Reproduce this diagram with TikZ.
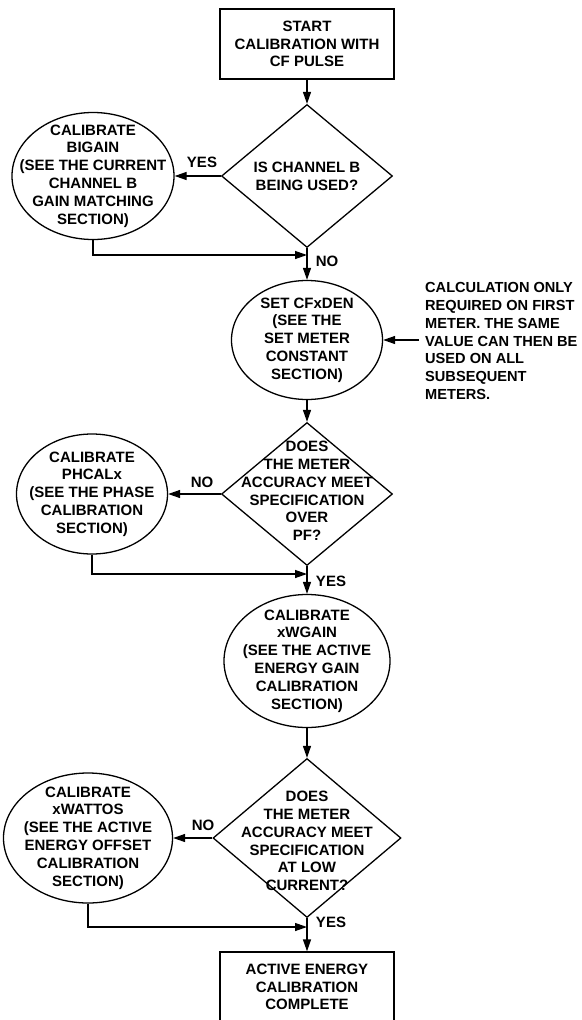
\documentclass[tikz,border=0pt]{standalone}
\usepackage{fontspec}
\setmainfont{Liberation Sans}
\usetikzlibrary{shapes.geometric,arrows.meta}
\tikzset{
  txt/.style={font=\fontsize{15}{17.8}\selectfont\bfseries, align=center, inner sep=0pt},
  notetxt/.style={font=\fontsize{14.6}{17.8}\selectfont\bfseries, align=left, inner sep=0pt},
  lbl/.style={font=\fontsize{15}{17.8}\selectfont\bfseries, inner sep=0pt},
  ell/.style={draw, ellipse, line width=1.3pt, inner sep=0pt},
  dia/.style={draw, diamond, line width=1.3pt, inner sep=0pt},
  boxnode/.style={draw, rectangle, line width=1.3pt, inner sep=0pt},
  arr/.style={line width=1.3pt, -{Triangle[length=12pt,width=8pt]}}
}
\begin{document}
\begin{tikzpicture}[x=1pt,y=-1pt]
\useasboundingbox (0,0) rectangle (581,1020);
% shapes
\node[boxnode, minimum width=174pt, minimum height=70pt] (start) at (307,44) {};
\node[txt] at (start) {START\\CALIBRATION WITH\\CF PULSE};
\node[dia, minimum width=171pt, minimum height=143pt] (d1) at (307,176) {};
\node[txt] at (d1) {IS CHANNEL B\\BEING USED?};
\node[ell, minimum width=162pt, minimum height=127pt] (e1) at (93,176) {};
\node[txt] at (e1) {CALIBRATE\\BIGAIN\\(SEE THE CURRENT\\CHANNEL B\\GAIN MATCHING\\SECTION)};
\node[ell, minimum width=151pt, minimum height=119pt] (e2) at (307,340) {};
\node[txt] at (e2) {SET CFxDEN\\(SEE THE\\SET METER\\CONSTANT\\SECTION)};
\node[notetxt, anchor=west] (note) at (425,341) {CALCULATION ONLY\\REQUIRED ON FIRST\\METER. THE SAME\\VALUE CAN THEN BE\\USED ON ALL\\SUBSEQUENT\\METERS.};
\coordinate (noteend) at (419,340);
\node[dia, minimum width=171pt, minimum height=143pt] (d2) at (307,494) {};
\node[txt] at ([yshift=3pt]d2.center) {DOES\\THE METER\\ACCURACY MEET\\SPECIFICATION\\OVER\\PF?};
\node[ell, minimum width=151pt, minimum height=120pt] (e3) at (92,494) {};
\node[txt] at (e3) {CALIBRATE\\PHCALx\\(SEE THE PHASE\\CALIBRATION\\SECTION)};
\node[ell, minimum width=166pt, minimum height=133pt] (e4) at (307,661) {};
\node[txt] at (e4) {CALIBRATE\\xWGAIN\\(SEE THE ACTIVE\\ENERGY GAIN\\CALIBRATION\\SECTION)};
\node[dia, minimum width=188pt, minimum height=159pt] (d3) at (307,838) {};
\node[txt] at ([yshift=-3pt]d3.center) {DOES\\THE METER\\ACCURACY MEET\\SPECIFICATION\\AT LOW\\CURRENT?};
\node[ell, minimum width=169pt, minimum height=130pt] (e5) at (88,838) {};
\node[txt] at (e5) {CALIBRATE\\xWATTOS\\(SEE THE ACTIVE\\ENERGY OFFSET\\CALIBRATION\\SECTION)};
\node[boxnode, minimum width=174pt, minimum height=70pt] (fin) at (307,987) {};
\node[txt] at (fin) {ACTIVE ENERGY\\CALIBRATION\\COMPLETE};
% junctions
\coordinate (j1) at (307,255);
\coordinate (j2) at (307,574);
\coordinate (j3) at (307,927);
% connectors
\draw[arr] (start.south) -- (d1.north);
\draw[arr] (d1.west) -- (e1.east);
\draw[arr] (e1.south) |- (j1);
\draw[arr] (d1.south) -- (e2.north);
\draw[arr] (noteend) -- (e2.east);
\draw[arr] (e2.south) -- (d2.north);
\draw[arr] (d2.west) -- (e3.east);
\draw[arr] (e3.south) |- (j2);
\draw[arr] (d2.south) -- (e4.north);
\draw[arr] (e4.south) -- (d3.north);
\draw[arr] (d3.west) -- (e5.east);
\draw[arr] (e5.south) |- (j3);
\draw[arr] (d3.south) -- (fin.north);
% labels
\node[lbl] (yes1) at (202,162) {YES};
\node[lbl] (no1) at (327,261) {NO};
\node[lbl] (no2) at (202,482) {NO};
\node[lbl] (yes2) at (331,581) {YES};
\node[lbl] (no3) at (203,825) {NO};
\node[lbl] (yes3) at (331,922) {YES};
\end{tikzpicture}
\end{document}
